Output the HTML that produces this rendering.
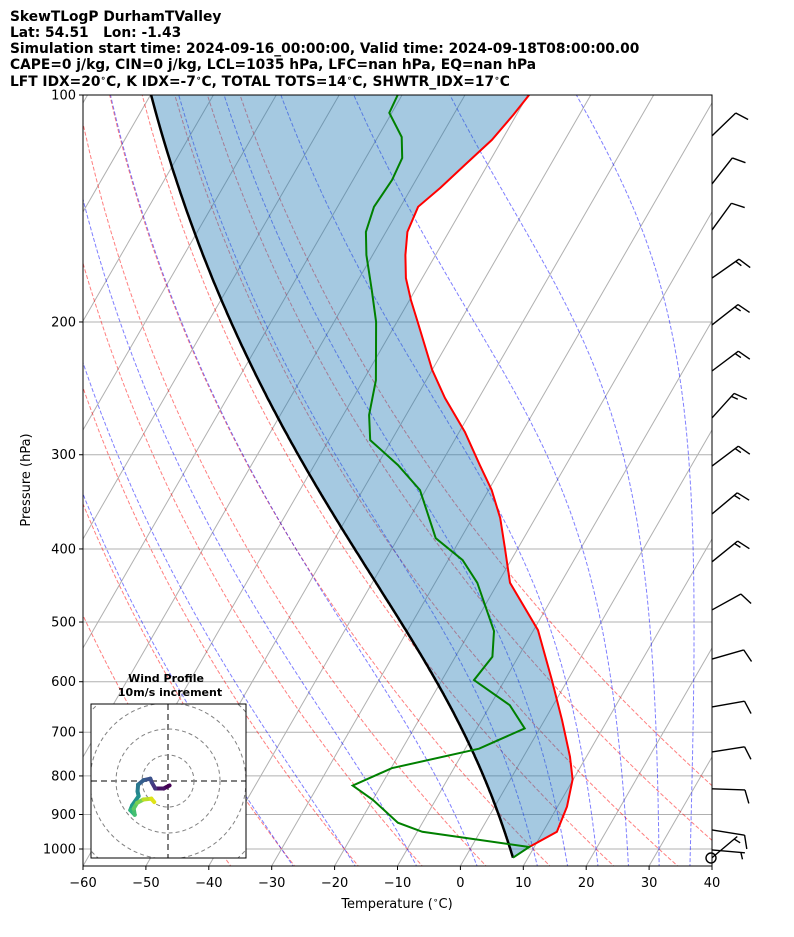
<!DOCTYPE html>
<html><head><meta charset="utf-8"><style>
html,body{margin:0;padding:0;background:#fff;}
svg{display:block;font-family:"DejaVu Sans","Liberation Sans",sans-serif;}
</style></head><body>
<svg id="chart" width="794" height="937" viewBox="0 0 794 937" xmlns="http://www.w3.org/2000/svg">
<defs><clipPath id="plotclip"><rect x="83" y="95" width="629" height="771"/></clipPath>
<clipPath id="hodoclip"><rect x="91" y="704" width="155" height="154"/></clipPath></defs>
<g font-weight="bold" font-size="13.8" fill="#000">
<text x="10" y="21">SkewTLogP DurhamTValley</text>
<text x="10" y="37" xml:space="preserve">Lat: 54.51   Lon: -1.43</text>
<text x="10" y="53">Simulation start time: 2024-09-16_00:00:00, Valid time: 2024-09-18T08:00:00.00</text>
<text x="10" y="69">CAPE=0 j/kg, CIN=0 j/kg, LCL=1035 hPa, LFC=nan hPa, EQ=nan hPa</text>
<text x="10" y="86">LFT IDX=20<tspan font-size="9" dy="-5">∘</tspan><tspan dy="5">C, K IDX=-7</tspan><tspan font-size="9" dy="-5">∘</tspan><tspan dy="5">C, TOTAL TOTS=14</tspan><tspan font-size="9" dy="-5">∘</tspan><tspan dy="5">C, SHWTR_IDX=17</tspan><tspan font-size="9" dy="-5">∘</tspan><tspan dy="5">C</tspan></text>
</g>
<g id="plot" clip-path="url(#plotclip)"></g>
<rect x="83" y="95" width="629" height="771" fill="none" stroke="#000" stroke-width="1"/>
<g id="axes"></g>
<g id="barbs"></g>
<g id="hodo"></g>
<text x="30" y="480" font-size="13" text-anchor="middle" transform="rotate(-90 30 480)">Pressure (hPa)</text>
<text x="397" y="908" font-size="13" text-anchor="middle">Temperature (<tspan font-size="9" dy="-5">∘</tspan><tspan dy="5">C)</tspan></text>
</svg>
<script>
// ---- data ----
const tempP = [993.9,948.8,878.6,808.6,754.5,675,597,512.6,443.5,398.8,363.9,334.2,309.6,279.9,252.2,231.5,200,187,174.9,163,151.9,140.7,132.8,123.8,114.7,106.3,100];
const tempT = [9.2,12.2,11.5,9.9,7.4,2.8,-2.5,-9.3,-18.1,-22.1,-25.6,-29.5,-33.7,-39.1,-45.4,-50,-56.7,-59.8,-62.6,-64.8,-66.6,-67.2,-65.4,-63.6,-61.6,-60.5,-59.8];
const dewP = [1027,993.9,948.8,922.9,860.4,824,781.3,736.2,692,644.6,597,556,514.1,443.5,413.9,387,334.2,309.6,286.9,265.6,238.9,200,181.5,163,151.9,140.7,129.6,121.2,113.7,105.6,100];
const dewT = [7.6,9.2,-9.2,-13.9,-20,-24.5,-19.9,-7.8,-2.4,-6.9,-14.9,-14.1,-16.2,-23.3,-27.7,-34,-40.9,-46.7,-53.4,-55.9,-58,-63.3,-66.9,-71,-73.2,-74.2,-73.8,-74.2,-76.2,-80.4,-80.7];
const parcelStartP = 1027;
const parcelStartT = 7.6;
const isothermTicks = [-60,-50,-40,-30,-20,-10,0,10,20,30,40];
const pressureTicks = [100,200,300,400,500,600,700,800,900,1000];
const dryT0 = [-40,-30,-20,-10,0,10,20,30,40,50];
const moistT0 = [-30,-20,-10,0,10,15,20,25,30,35,40,45];
const barbP = [113.3,131.2,151,174.9,201.8,232.3,268.1,310.5,359.5,416,481.9,559.8,648,743.5,832,943.6,1003,1027];
const barbDir = [46,38,36,55,52,53,42,53,50,51,61,74,80,81,92,99,95,50];
const barbSpd = [10,10,10,15,15,15,15,15,15,15,10,10,10,10,10,10,5,5];
const hodoU = [0.6,-1.7,-4.9,-6.2,-6.8,-9.4,-11.5,-11.7,-11.3,-13.8,-14.5,-12.8,-13.2,-11.9,-9.4,-6.4,-5.3];
const hodoV = [-1.7,-2.9,-2.9,-0.6,0.9,0.3,-1.4,-4.0,-5.8,-9.4,-11.2,-13.0,-10.6,-8.4,-7.1,-6.8,-8.1];

// ---- axes functions ----
const NS='http://www.w3.org/2000/svg';
const X0=83, Y0=95, YB=866, DEC=754, PXT=6.29, SK=0.577;
function yOf(p){return Y0+DEC*Math.log10(p/100);}
function xOf(T,p){return X0+(T+60)*PXT+SK*(YB-yOf(p));}
function mk(tag,attrs,parent){const e=document.createElementNS(NS,tag);for(const k in attrs)e.setAttribute(k,attrs[k]);parent.appendChild(e);return e;}
function ptsStr(ps,ts){return ps.map((p,i)=>xOf(ts[i],p).toFixed(1)+','+yOf(p).toFixed(1)).join(' ');}
function es(Tc){return 6.112*Math.exp(17.67*Tc/(Tc+243.5));}
function dTdp(TK,p){const Tc=TK-273.15;const e=es(Tc);const rs=0.622*e/Math.max(p-e,1);const Rd=287.04,Cp=1005.7,Lv=2.501e6;
 return (Rd*TK+Lv*rs)/(p*(Cp+Lv*Lv*rs*0.622/(Rd*TK*TK)));}
function moistProfile(T0,p0,p1){const out=[[p0,T0]];let T=T0+273.15,p=p0;const dp=p1<p0?-2:2;
 while((dp<0&&p>p1)||(dp>0&&p<p1)){let h=dp;if(dp<0&&p+h<p1)h=p1-p;if(dp>0&&p+h>p1)h=p1-p;
  const k1=dTdp(T,p),k2=dTdp(T+h/2*k1,p+h/2),k3=dTdp(T+h/2*k2,p+h/2),k4=dTdp(T+h*k3,p+h);
  T+=h/6*(k1+2*k2+2*k3+k4);p+=h;out.push([p,T-273.15]);}
 return out;}

const plot=document.getElementById('plot');
const axes=document.getElementById('axes');
pressureTicks.forEach(p=>{
 const l=mk('line',{x1:83,x2:712,y1:yOf(p),y2:yOf(p),stroke:'#b0b0b0','stroke-width':1},plot);
 
 
});
for(let T=-170;T<=40;T+=10){
 const l=mk('line',{x1:xOf(T,1053),y1:yOf(1053),x2:xOf(T,100),y2:yOf(100),stroke:'#b0b0b0','stroke-width':1},plot);
 
 
}
dryT0.forEach(t0=>{const ps=[],ts=[];for(let p=1060;p>=100;p-=10){ps.push(p);ts.push((t0+273.15)*Math.pow(p/1000,0.2857)-273.15);}
 const l=mk('polyline',{points:ptsStr(ps,ts),fill:'none',stroke:'#ff0000','stroke-opacity':0.5,'stroke-width':1,'stroke-dasharray':'4,2'},plot);
 
 
});
moistT0.forEach(t0=>{const up=moistProfile(t0,1000,100),dn=moistProfile(t0,1000,1060);const pr=dn.reverse().concat(up.slice(1));
 const l=mk('polyline',{points:ptsStr(pr.map(q=>q[0]),pr.map(q=>q[1])),fill:'none',stroke:'#0000ff','stroke-opacity':0.5,'stroke-width':1,'stroke-dasharray':'4,2'},plot);
 
 
});
const parcelProf=moistProfile(parcelStartT,parcelStartP,100);
{const a=[xOf(parcelStartT,parcelStartP).toFixed(1)+','+yOf(parcelStartP).toFixed(1)];
 tempP.forEach((p,i)=>a.push(xOf(tempT[i],p).toFixed(1)+','+yOf(p).toFixed(1)));
 for(let i=parcelProf.length-1;i>=0;i--){const q=parcelProf[i];a.push(xOf(q[1],q[0]).toFixed(1)+','+yOf(q[0]).toFixed(1));}
 const f=mk('polygon',{points:a.join(' '),fill:'#1f77b4','fill-opacity':0.4,stroke:'none'},plot);
 
 
}
{const l=mk('polyline',{points:ptsStr(parcelProf.map(q=>q[0]),parcelProf.map(q=>q[1])),fill:'none',stroke:'#000','stroke-width':2.5},plot);
 
 }
{const l=mk('polyline',{points:ptsStr(tempP,tempT),fill:'none',stroke:'#ff0000','stroke-width':2},plot);
 
 }
{const l=mk('polyline',{points:ptsStr(dewP,dewT),fill:'none',stroke:'#008000','stroke-width':2},plot);
 
 }

isothermTicks.forEach(T=>{const x=X0+(T+60)*PXT;
 const t=mk('line',{x1:x,x2:x,y1:866,y2:870,stroke:'#000'},axes);
 
 
 const s=mk('text',{x:x,y:887,'font-size':13,'text-anchor':'middle'},axes);s.textContent=(T<0?'−':'')+Math.abs(T);
 
 
});
pressureTicks.forEach(p=>{const y=yOf(p);
 const t=mk('line',{x1:79,x2:83,y1:y,y2:y,stroke:'#000'},axes);
 
 
 const s=mk('text',{x:76,y:y+4.5,'font-size':13,'text-anchor':'end'},axes);s.textContent=p;
 
 
});

const barbs=document.getElementById('barbs');
{const l=mk('line',{x1:712,x2:712,y1:95,y2:866,stroke:'#000','stroke-width':1},barbs);
 
 }
barbP.forEach((p,i)=>{const by=yOf(p),bx=712;const r=barbDir[i]*Math.PI/180;const dx=Math.sin(r),dy=-Math.cos(r);const L=33;
 const tx=bx+L*dx,ty=by+L*dy;const a=72*Math.PI/180;const px=dx*Math.cos(a)-dy*Math.sin(a),py=dx*Math.sin(a)+dy*Math.cos(a);
 const g=mk('g',{stroke:'#000','stroke-width':1.4,fill:'none'},barbs);
 
 
 mk('line',{x1:bx,y1:by,x2:tx,y2:ty},g);
 let s=barbSpd[i],k=0;
 while(s>=10){const sx=tx-k*4*dx,sy=ty-k*4*dy;mk('line',{x1:sx,y1:sy,x2:sx+14*px,y2:sy+14*py},g);s-=10;k++;}
 if(s>=5){if(k===0)k=1;const sx=tx-k*4*dx,sy=ty-k*4*dy;mk('line',{x1:sx,y1:sy,x2:sx+7*px,y2:sy+7*py},g);}
});
{const c=mk('circle',{cx:711,cy:858,r:5,fill:'none',stroke:'#000','stroke-width':1.4},barbs);
 
 }

const hodo=document.getElementById('hodo');
{const r=mk('rect',{x:91,y:704,width:155,height:154,fill:'#fff',stroke:'none'},hodo);
 
 }
const HC={x:168,y:781},HS=2.6;
const hg=mk('g',{'clip-path':'url(#hodoclip)'},hodo);
[10,20,30,40].forEach(v=>{const c=mk('circle',{cx:HC.x,cy:HC.y,r:v*HS,fill:'none',stroke:'#808080','stroke-width':1,'stroke-dasharray':'4,3'},hg);
 
 });
{const a=mk('line',{x1:91,x2:246,y1:HC.y,y2:HC.y,stroke:'#808080','stroke-width':2,'stroke-dasharray':'6,4'},hg);
 
 
 const b=mk('line',{x1:HC.x,x2:HC.x,y1:704,y2:858,stroke:'#808080','stroke-width':2,'stroke-dasharray':'6,4'},hg);
 
 }
const vir=['#440154','#471365','#482475','#463480','#414487','#3b528b','#355f8d','#2f6c8e','#2a788e','#25848e','#21918c','#1e9c89','#22a884','#2fb47c','#44bf70','#5ec962','#7ad151','#9bd93c','#bddf26','#dfe318'];
for(let i=0;i<hodoU.length-1;i++){const c=vir[Math.round(i/(hodoU.length-2)*(vir.length-1))];
 const l=mk('line',{x1:HC.x+hodoU[i]*HS,y1:HC.y-hodoV[i]*HS,x2:HC.x+hodoU[i+1]*HS,y2:HC.y-hodoV[i+1]*HS,stroke:c,'stroke-width':4,'stroke-linecap':'round'},hg);
 
 }
{const r=mk('rect',{x:91,y:704,width:155,height:154,fill:'none',stroke:'#000','stroke-width':1},hodo);
 
 
 const t1=mk('text',{x:166,y:682,'font-size':11,'font-weight':'bold','text-anchor':'middle'},hodo);t1.textContent='Wind Profile';
 
 
 const t2=mk('text',{x:170,y:696,'font-size':11,'font-weight':'bold','text-anchor':'middle'},hodo);t2.textContent='10m/s increment';
 
 }
</script>
</body></html>
